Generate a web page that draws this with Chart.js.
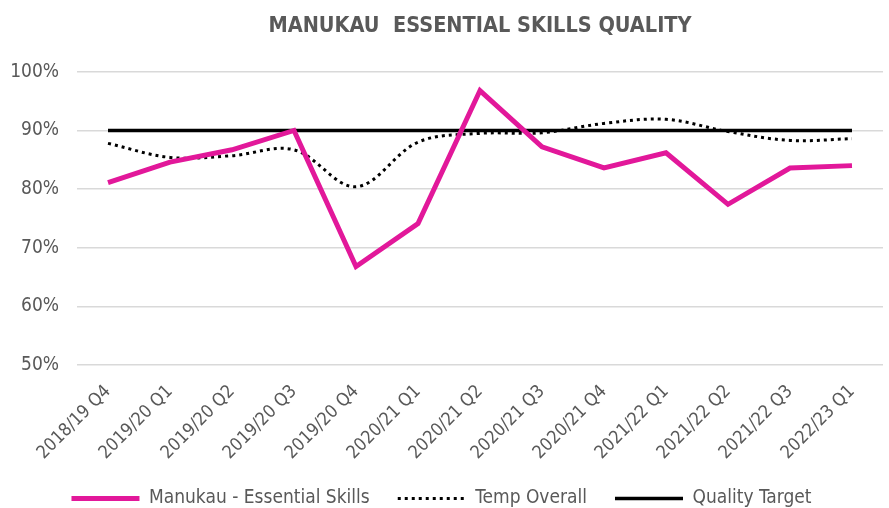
<!DOCTYPE html>
<html lang="en">
<head>
  <meta charset="UTF-8" />
  <title>Manukau Essential Skills Quality</title>
  <script src="https://cdn.jsdelivr.net/npm/chart.js"></script>
  <style>
    html, body { margin: 0; padding: 0; background: #fff; }
    #wrap { width: 889px; height: 508px; }
  </style>
</head>
<body>
  <div id="wrap"><canvas id="qualityChart" width="889" height="508"></canvas></div>

  <script>
    const quarters = [
      '2018/19 Q4', '2019/20 Q1', '2019/20 Q2', '2019/20 Q3', '2019/20 Q4',
      '2020/21 Q1', '2020/21 Q2', '2020/21 Q3', '2020/21 Q4', '2021/22 Q1',
      '2021/22 Q2', '2021/22 Q3', '2022/23 Q1'
    ];
    const manukauSkills = [81.1, 84.6, 86.7, 90.0, 66.8, 74.1, 96.8, 87.2, 83.6, 86.2, 77.4, 83.6, 84.0];
    const tempOverall = [87.8, 85.4, 85.7, 86.7, 80.4, 88.0, 89.5, 89.6, 91.2, 91.9, 89.8, 88.3, 88.6];
    const qualityTarget = [90, 90, 90, 90, 90, 90, 90, 90, 90, 90, 90, 90, 90];

    const font = "'Liberation Sans Narrow', 'DejaVu Sans Condensed', 'Liberation Sans', sans-serif";
    const grey = '#595959';

    const ctx = document.getElementById('qualityChart').getContext('2d');

    // legend with point style 'line' loses the dataset dash, so copy it back
    const legendLabels = chart => {
      const items = Chart.defaults.plugins.legend.labels.generateLabels(chart);
      items.forEach(item => {
        const ds = chart.data.datasets[item.datasetIndex];
        item.lineDash = ds.borderDash || [];
        item.lineWidth = ds.borderWidth;
        item.strokeStyle = ds.borderColor;
        item.fillStyle = ds.borderColor;
        item.pointStyle = 'line';
      });
      return items;
    };

    const chart = new Chart(ctx, {
      type: 'line',
      data: {
        labels: quarters,
        datasets: [
          {
            label: 'Manukau - Essential Skills',
            data: manukauSkills,
            borderColor: '#e2189a',
            backgroundColor: '#e2189a',
            borderWidth: 5,
            pointRadius: 0,
            tension: 0
          },
          {
            label: 'Temp Overall',
            data: tempOverall,
            borderColor: '#000',
            backgroundColor: '#000',
            borderWidth: 3,
            borderDash: [3, 4],
            pointRadius: 0,
            tension: 0.35
          },
          {
            label: 'Quality Target',
            data: qualityTarget,
            borderColor: '#000',
            backgroundColor: '#000',
            borderWidth: 3.5,
            pointRadius: 0,
            tension: 0
          }
        ]
      },
      options: {
        responsive: false,
        animation: false,
        layout: {
          padding: { left: 0, right: 6, top: 0, bottom: -10 }
        },
        plugins: {
          title: {
            display: true,
            fullSize: false,
            text: 'MANUKAU  ESSENTIAL SKILLS QUALITY',
            color: grey,
            font: { family: font, size: 21.5, weight: 'bold' },
            padding: { top: 14, bottom: 32 }
          },
          legend: {
            position: 'bottom',
            labels: {
              color: grey,
              font: { family: font, size: 19 },
              usePointStyle: true,
              pointStyle: 'line',
              pointStyleWidth: 68,
              boxHeight: 19,
              padding: 28,
              generateLabels: legendLabels
            }
          },
          tooltip: { enabled: false }
        },
        scales: {
          x: {
            offset: true,
            afterFit: scale => { scale.height = 96; },
            grid: { display: false },
            border: { display: false },
            ticks: {
              color: grey,
              font: { family: font, size: 18 },
              minRotation: 45,
              maxRotation: 45,
              padding: 8
            }
          },
          y: {
            min: 50,
            max: 100,
            afterFit: scale => { scale.width = 77; },
            grid: { color: '#d9d9d9', lineWidth: 1.5, drawTicks: false },
            border: { display: false },
            ticks: {
              stepSize: 10,
              color: grey,
              font: { family: font, size: 19 },
              padding: 18,
              callback: v => v + '%'
            }
          }
        }
      }
    });
  </script>
</body>
</html>
